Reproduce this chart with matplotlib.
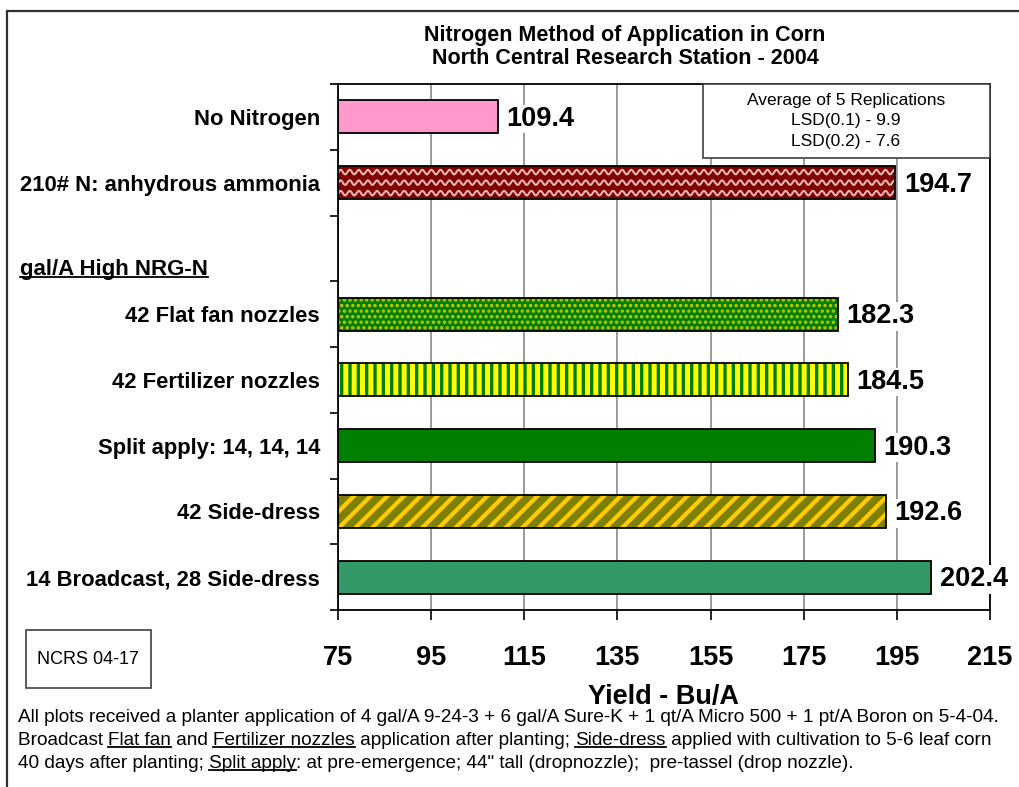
import numpy as np
import matplotlib
matplotlib.use('Agg')
import matplotlib.pyplot as plt
from matplotlib.patches import Rectangle
from matplotlib.lines import Line2D
from matplotlib.transforms import IdentityTransform

plt.rcParams['font.family'] = ['Liberation Sans', 'DejaVu Sans']

# %%
# Data
treatments = ['No Nitrogen', '210# N: anhydrous ammonia', '',
              '42 Flat fan nozzles', '42 Fertilizer nozzles',
              'Split apply: 14, 14, 14', '42 Side-dress',
              '14 Broadcast, 28 Side-dress']
yields = [109.4, 194.7, np.nan, 182.3, 184.5, 190.3, 192.6, 202.4]
x_ticks = [75, 95, 115, 135, 155, 175, 195, 215]

face_colors = ['#FF99CC', '#800000', 'none', '#008000', '#008000',
               '#008000', '#808000', '#339966']
hatch_colors = [None, None, None, '#C8C800', '#FFFF00', None, '#FFCC00', None]
hatches = [None, None, None, '...', '||', None, '//', None]
hatch_widths = [0, 0, 0, 1.6, 3.6, 0, 3.0, 0]

W, H = 1019, 787
fig = plt.figure(figsize=(W / 100, H / 100), dpi=100)
ax = fig.add_axes([338 / W, 1 - 610 / H, (990 - 338) / W, (610 - 84) / H])

ypos = np.arange(len(treatments))
ax.set_xlim(x_ticks[0], x_ticks[-1])
ax.set_ylim(len(treatments) - 0.5, -0.5)

# gridlines
ax.set_xticks(x_ticks)
ax.grid(axis='x', color='#808080', linewidth=1.1, zorder=0)
ax.set_axisbelow(True)

# bars, base fill + hatch layer + black outline
for i, (y, v) in enumerate(zip(ypos, yields)):
    if np.isnan(v):
        continue
    if hatches[i]:
        b = ax.barh(y, v - x_ticks[0], left=x_ticks[0], height=0.5,
                    color=face_colors[i], edgecolor=hatch_colors[i],
                    linewidth=0, hatch=hatches[i], zorder=2)[0]
        if hasattr(b, 'set_hatch_linewidth'):
            b.set_hatch_linewidth(hatch_widths[i])
        else:
            plt.rcParams['hatch.linewidth'] = hatch_widths[i]
    else:
        b = ax.barh(y, v - x_ticks[0], left=x_ticks[0], height=0.5,
                    color=face_colors[i], linewidth=0, zorder=2)[0]
    ax.barh(y, v - x_ticks[0], left=x_ticks[0], height=0.5,
            facecolor='none', edgecolor='black', linewidth=1.3, zorder=4)
    if i == 1:
        # wavy pattern of the anhydrous ammonia bar
        xs = np.linspace(x_ticks[0], v, 800)
        for off in (-0.16, 0.0, 0.16):
            ln, = ax.plot(xs, y + off + 0.035 * np.sin(2 * np.pi * xs / 1.95),
                          color='#E8B4B4', linewidth=1.5, zorder=3)
            ln.set_clip_path(b)
    ax.annotate(f'{v:.1f}', xy=(v, y), xytext=(6, -1.5),
                textcoords='offset points', va='center', ha='left',
                fontsize=19.5, fontweight='bold', zorder=5,
                bbox=dict(facecolor='white', edgecolor='none', pad=1))

# axes styling
for s in ax.spines.values():
    s.set_linewidth(1.3)
    s.set_color('black')
ax.set_yticks(ypos)
ax.set_yticklabels(treatments, fontsize=15.8, fontweight='bold')
ax.set_yticks(np.arange(-0.5, len(treatments)), minor=True)
ax.tick_params(axis='y', which='major', length=0, pad=13)
ax.tick_params(axis='y', which='minor', length=6, width=1.2)
ax.tick_params(axis='x', length=7, width=1.2, pad=18, labelsize=19.5)
for lab in ax.get_xticklabels():
    lab.set_fontweight('bold')

fig.text(663 / W, 1 - 697 / H, 'Yield - Bu/A', ha='center', va='center',
         fontsize=19.5, fontweight='bold')

# title
fig.text(625 / W, 1 - 36 / H, 'Nitrogen Method of Application in Corn',
         ha='center', va='center', fontsize=15.5, fontweight='bold')
fig.text(625 / W, 1 - 59 / H, 'North Central Research Station - 2004',
         ha='center', va='center', fontsize=15.5, fontweight='bold')

# LSD box
fig.add_artist(Rectangle((703 / W, 1 - 158 / H), (990 - 703) / W, 74 / H,
                         transform=fig.transFigure, facecolor='white',
                         edgecolor='#404040', linewidth=1.2, zorder=6))
fig.text(846 / W, 1 - 121 / H,
         'Average of 5 Replications\nLSD(0.1) - 9.9\nLSD(0.2) - 7.6',
         ha='center', va='center', fontsize=12.5, linespacing=1.45, zorder=7)

# NCRS box
fig.add_artist(Rectangle((26 / W, 1 - 688 / H), 125 / W, 58 / H,
                         transform=fig.transFigure, facecolor='white',
                         edgecolor='#404040', linewidth=1.2))
fig.text(88 / W, 1 - 660 / H, 'NCRS 04-17', ha='center', va='center',
         fontsize=13)

# outer border
fig.add_artist(Rectangle((7 / W, -0.02), 1.05, 1 - 11 / H + 0.02,
                         transform=fig.transFigure, facecolor='none',
                         edgecolor='#303030', linewidth=1.6, clip_on=False))

fig.canvas.draw()
renderer = fig.canvas.get_renderer()
ident = IdentityTransform()


def text_width(s, **kw):
    t = fig.text(0, 0, s + '|', transform=ident, **kw)
    w1 = t.get_window_extent(renderer).width
    t.set_text('|')
    w2 = t.get_window_extent(renderer).width
    t.remove()
    return w1 - w2


def place_line(pieces, x0, ybase, **kw):
    full = ''
    for s, under in pieces:
        x = x0 + text_width(full, **kw) if full else x0
        fig.text(x, ybase, s, transform=ident, va='baseline', **kw)
        if under:
            w = text_width(s, **kw)
            fig.add_artist(Line2D([x, x + w], [ybase - 2, ybase - 2],
                                  transform=ident, color='black',
                                  linewidth=1.3))
        full += s


# group header
place_line([('gal/A High NRG-N', True)], 20, H - 275, fontsize=16,
           fontweight='bold')

# footnote
notes = [
    [('All plots received a planter application of 4 gal/A 9-24-3 + 6 gal/A '
      'Sure-K + 1 qt/A Micro 500 + 1 pt/A Boron on 5-4-04.', False)],
    [('Broadcast ', False), ('Flat fan', True), (' and ', False),
     ('Fertilizer nozzles', True), (' application after planting; ', False),
     ('Side-dress', True),
     (' applied with cultivation to 5-6 leaf corn', False)],
    [('40 days after planting; ', False), ('Split apply', True),
     (': at pre-emergence; 44" tall (dropnozzle);  pre-tassel (drop nozzle).',
      False)],
]
for k, line in enumerate(notes):
    place_line(line, 18, H - (722 + 23 * k), fontsize=13.7)

fig.savefig('out.png', dpi=100)
